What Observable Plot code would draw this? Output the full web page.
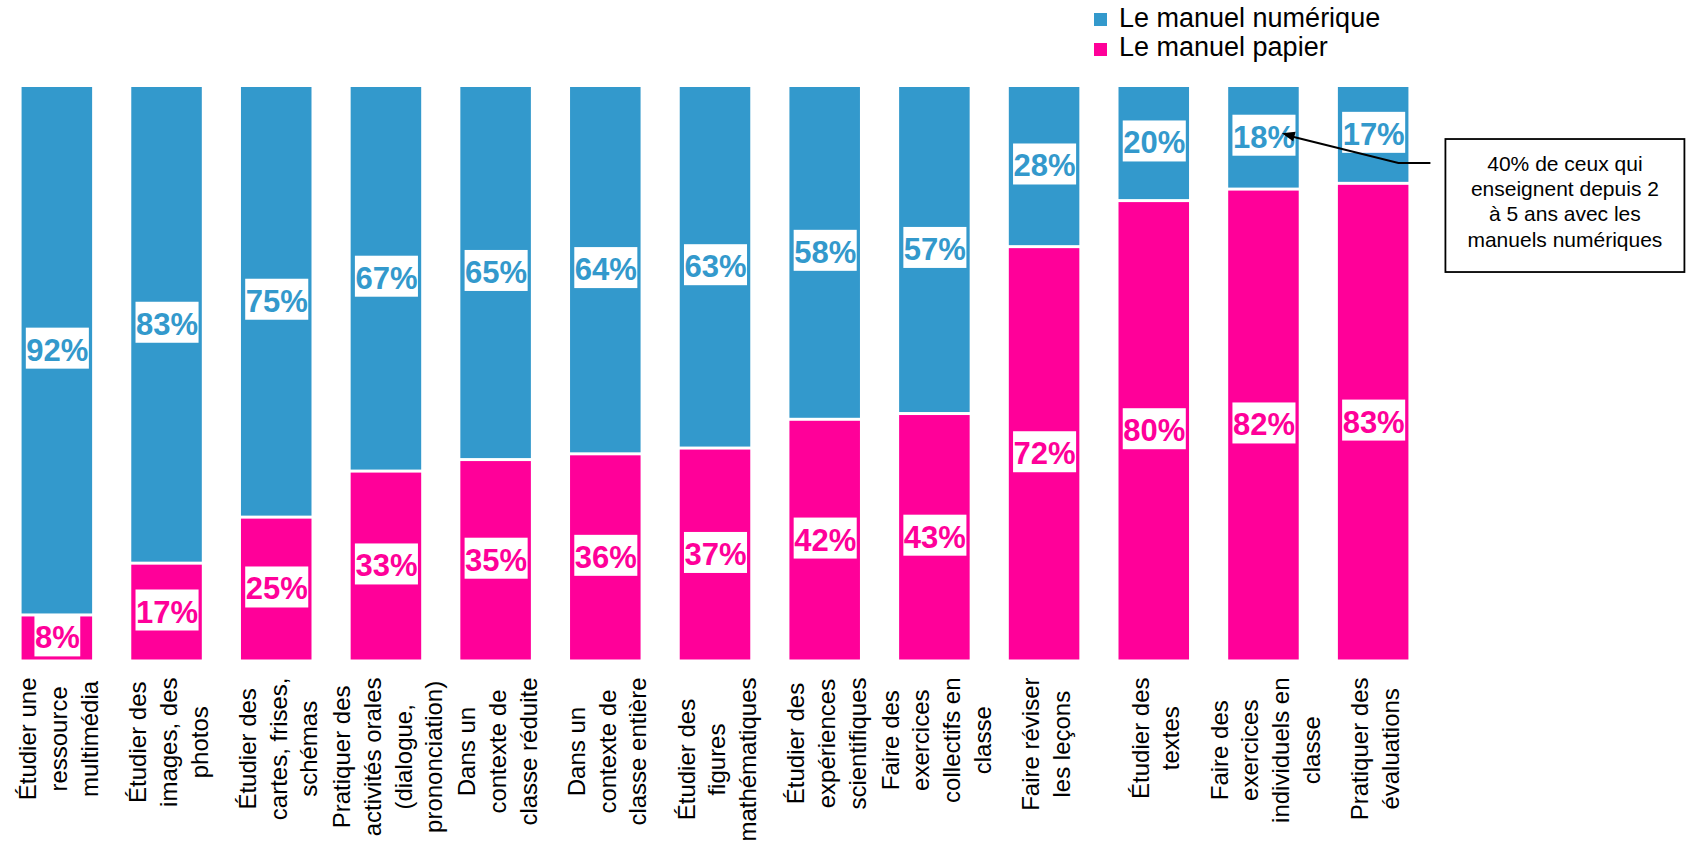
<!DOCTYPE html>
<html><head><meta charset="utf-8">
<script src="https://cdn.jsdelivr.net/npm/d3@7"></script>
<script src="https://cdn.jsdelivr.net/npm/@observablehq/plot@0.6"></script>
<style>
body{margin:0;background:#fff;font-family:"Liberation Sans",Arial,sans-serif;}
#legend{position:relative;height:66px;width:1686px;}
.sw{position:absolute;width:13px;height:13px;}
.lt{position:absolute;font-size:27px;line-height:27px;color:#000;white-space:nowrap;}
#chart svg{display:block;}
</style></head><body>
<div id="legend"></div>
<div id="chart"></div>
<script>
const categories = [
  "Étudier une\nressource\nmultimédia",
  "Étudier des\nimages, des\nphotos",
  "Étudier des\ncartes, frises,\nschémas",
  "Pratiquer des\nactivités orales\n(dialogue,\nprononciation)",
  "Dans un\ncontexte de\nclasse réduite",
  "Dans un\ncontexte de\nclasse entière",
  "Étudier des\nfigures\nmathématiques",
  "Étudier des\nexpériences\nscientifiques",
  "Faire des\nexercices\ncollectifs en\nclasse",
  "Faire réviser\nles leçons",
  "Étudier des\ntextes",
  "Faire des\nexercices\nindividuels en\nclasse",
  "Pratiquer des\névaluations"
];
const seriesNames = ["Le manuel numérique", "Le manuel papier"];
const numerique = [92, 83, 75, 67, 65, 64, 63, 58, 57, 28, 20, 18, 17];
const papier    = [8, 17, 25, 33, 35, 36, 37, 42, 43, 72, 80, 82, 83];
const colors = ["#3399cc", "#ff0099"];
const annotationLines = ["40% de ceux qui", "enseignent depuis 2", "à 5 ans avec les", "manuels numériques"];
const annotatedIndex = 11;

// legend
const legend = document.getElementById("legend");
seriesNames.forEach((s, i) => {
  const sw = document.createElement("div");
  sw.className = "sw"; sw.style.left = "1094px"; sw.style.top = (13 + i * 30) + "px"; sw.style.background = colors[i];
  const t = document.createElement("div");
  t.className = "lt"; t.style.left = "1119px"; t.style.top = (5 + i * 29) + "px"; t.textContent = s;
  legend.appendChild(sw); legend.appendChild(t);
});

const rows = [];
categories.forEach((c, i) => {
  rows.push({cat: c, series: seriesNames[1], value: papier[i] / 100});
  rows.push({cat: c, series: seriesNames[0], value: numerique[i] / 100});
});

const annotation = (index, scales, values, dimensions) => {
  const x = scales.x, y = scales.y;
  const bw = x.bandwidth ? x.bandwidth() : scales.scales.x.bandwidth;
  const last = categories[categories.length - 1];
  const ac = categories[annotatedIndex];
  const right = x(last) + bw;
  const g = d3.create("svg:g");
  const bx = right + 37, by = y(0.907), bw2 = 239, bh = 133;
  g.append("rect").attr("x", bx).attr("y", by).attr("width", bw2).attr("height", bh)
    .attr("fill", "white").attr("stroke", "black").attr("stroke-width", 1.8);
  const tx = bx + bw2 / 2;
  annotationLines.forEach((l, i) => {
    g.append("text").attr("x", tx).attr("y", by + 31.7 + i * 25.3)
      .attr("text-anchor", "middle").attr("font-size", 21).attr("fill", "black").text(l);
  });
  const ly = by + 24;
  const tipX = x(ac) + bw * 0.76, tipY = y(1 - numerique[annotatedIndex] / 200) - 4;
  const bendX = right - 10;
  g.append("path").attr("d", `M${right + 22},${ly}L${bendX},${ly}L${tipX + 10},${tipY + 3.2}`)
    .attr("fill", "none").attr("stroke", "black").attr("stroke-width", 2);
  const ang = Math.atan2(tipY - ly, tipX - bendX);
  const L = 13, W = 5;
  const p1 = [tipX - L * Math.cos(ang) + W * Math.sin(ang), tipY - L * Math.sin(ang) - W * Math.cos(ang)];
  const p2 = [tipX - L * Math.cos(ang) - W * Math.sin(ang), tipY - L * Math.sin(ang) + W * Math.cos(ang)];
  g.append("path").attr("d", `M${tipX},${tipY}L${p1[0]},${p1[1]}L${p2[0]},${p2[1]}Z`).attr("fill", "black");
  return g.node();
};

const chart = Plot.plot({
  width: 1686,
  height: 776,
  marginTop: 19.5,
  marginBottom: 181,
  marginLeft: 2,
  marginRight: 258,
  style: {fontFamily: "'Liberation Sans', Arial, sans-serif", background: "white"},
  x: {domain: categories, paddingInner: 0.357, paddingOuter: 0.1785, round: false, axis: null},
  y: {domain: [0, 1], axis: null},
  color: {domain: seriesNames, range: colors},
  marks: [
    Plot.barY(rows, {x: "cat", y: "value", fill: "series", insetTop: 1.5, insetBottom: 1.5}),
    Plot.text(rows, Plot.stackY({
      x: "cat", y: "value", z: "series", fill: "series",
      text: d => Math.round(d.value * 100) + "%",
      fontSize: 31, fontWeight: "bold", className: "vlab"
    })),
    Plot.text(categories, {
      x: d => d, frameAnchor: "bottom", text: d => d, rotate: -90,
      textAnchor: "middle", lineAnchor: "middle", lineHeight: 1.28,
      dy: 16, fontSize: 24, fill: "black", className: "xlab"
    }),
    annotation
  ]
});
document.getElementById("chart").appendChild(chart);

// white boxes behind value labels
chart.querySelectorAll("g.vlab text").forEach(t => {
  const b = t.getBBox();
  const r = document.createElementNS("http://www.w3.org/2000/svg", "rect");
  const cy = b.y + b.height / 2 - 2;
  r.setAttribute("x", b.x - 0.5);
  r.setAttribute("width", b.width + 1);
  r.setAttribute("y", cy - 20.5);
  r.setAttribute("height", 41);
  r.setAttribute("fill", "white");
  if (t.getAttribute("transform")) r.setAttribute("transform", t.getAttribute("transform"));
  t.parentNode.insertBefore(r, t);
});
// top-align the rotated category label blocks, lines centered
chart.querySelectorAll("g.xlab text").forEach(t => {
  const spans = t.querySelectorAll("tspan");
  let L = 0;
  if (spans.length) spans.forEach(s => { L = Math.max(L, s.getComputedTextLength()); });
  else L = t.getComputedTextLength();
  t.setAttribute("transform", (t.getAttribute("transform") || "") + ` translate(${-L / 2},0)`);
});
</script>
</body></html>
